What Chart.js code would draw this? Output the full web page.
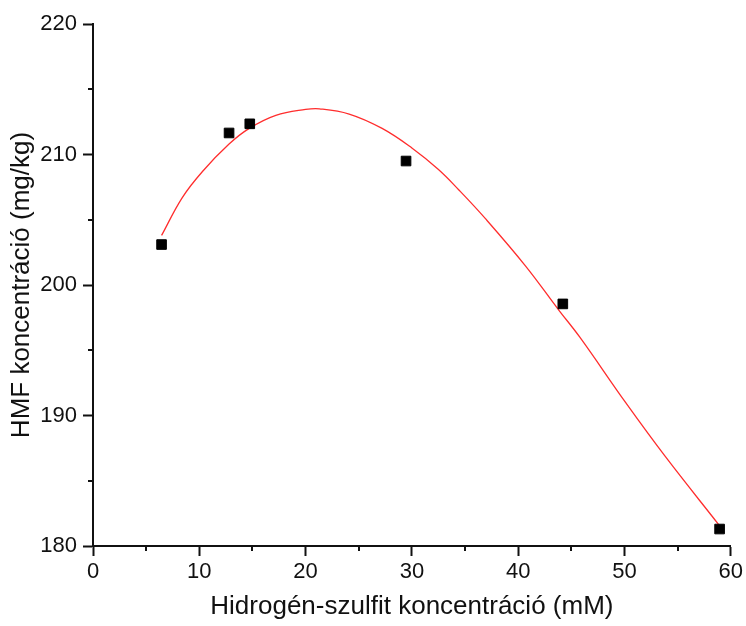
<!DOCTYPE html>
<html>
<head>
<meta charset="utf-8">
<script src="https://cdn.jsdelivr.net/npm/chart.js@4.4.1/dist/chart.umd.min.js"></script>
<style>
    html, body { margin: 0; padding: 0; background: #fff; }
    #wrap { width: 746px; height: 626px; }
</style>
</head>
<body>
<div id="wrap"><canvas id="hmfChart" width="746" height="626"></canvas></div>
<script>
// measured points (hydrogen sulfite mM -> HMF mg/kg)
const sulfiteMM = [6.45, 12.8, 14.75, 29.45, 44.2, 58.95];
const hmfValues = [203.1, 211.65, 212.35, 209.5, 198.55, 181.3];

// fitted curve
const fitX = [6.45, 8.4, 10.3, 12.8, 14.7, 17.2, 20.0, 21.3, 24.1, 27.2, 30.0, 32.5, 34.4, 36.9, 40.7, 43.8, 45.8, 50.1, 53.8, 58.9];
const fitY = [203.8, 206.7, 208.7, 210.8, 212.0, 213.0, 213.45, 213.5, 213.1, 212.0, 210.5, 208.85, 207.3, 205.1, 201.45, 198.1, 196.0, 191.0, 186.9, 181.6];

const xTicks = [0, 10, 20, 30, 40, 50, 60];
const yTicks = [180, 190, 200, 210, 220];
const xMinorTicks = [5, 15, 25, 35, 45, 55];
const yMinorTicks = [185, 195, 205, 215];

const FONT = "'Liberation Sans', Arial, sans-serif";
const INK = "#111";

// Chart.js has no minor ticks, so draw the short ones here
const minorTicks = {
    id: "minorTicks",
    afterDraw(chart) {
        const ctx = chart.ctx;
        const xs = chart.scales.x;
        const ys = chart.scales.y;
        ctx.save();
        ctx.strokeStyle = INK;
        ctx.lineWidth = 2;
        ctx.beginPath();
        xMinorTicks.forEach(v => {
            const px = Math.round(xs.getPixelForValue(v));
            ctx.moveTo(px, xs.top);
            ctx.lineTo(px, xs.top + 5);
        });
        yMinorTicks.forEach(v => {
            const py = Math.round(ys.getPixelForValue(v));
            ctx.moveTo(ys.right, py);
            ctx.lineTo(ys.right - 5, py);
        });
        ctx.stroke();
        ctx.restore();
    }
};

function drawChart() {
    const ctx = document.getElementById("hmfChart");
    new Chart(ctx, {
        type: "scatter",
        data: {
            datasets: [
                {
                    label: "Fit",
                    type: "line",
                    data: fitX.map((x, i) => ({ x, y: fitY[i] })),
                    borderColor: "rgb(255, 45, 45)",
                    borderWidth: 1.3,
                    pointRadius: 0,
                    fill: false,
                    tension: 0.4,
                    order: 2
                },
                {
                    label: "HMF",
                    data: sulfiteMM.map((x, i) => ({ x, y: hmfValues[i] })),
                    pointStyle: "rect",
                    pointRadius: 6.8,
                    pointBackgroundColor: "#000",
                    pointBorderColor: "#000",
                    pointBorderWidth: 1,
                    order: 1
                }
            ]
        },
        options: {
            responsive: false,
            animation: false,
            layout: { padding: { left: 0, right: 13, top: 24, bottom: 0 } },
            plugins: {
                legend: { display: false },
                tooltip: { enabled: false }
            },
            scales: {
                x: {
                    type: "linear",
                    min: 0,
                    max: 60,
                    afterBuildTicks: scale => { scale.ticks = xTicks.map(v => ({ value: v })); },
                    afterFit: scale => { scale.height = 80; },
                    grid: { drawOnChartArea: false, tickLength: 10, tickWidth: 2, tickColor: INK },
                    border: { color: INK, width: 2 },
                    ticks: { color: INK, font: { family: FONT, size: 22 }, padding: 3, maxRotation: 0 },
                    title: {
                        display: true,
                        text: "Hidrogén-szulfit koncentráció (mM)",
                        color: INK,
                        font: { family: FONT, size: 26 },
                        padding: { top: 0, bottom: 4 }
                    }
                },
                y: {
                    min: 180,
                    max: 220,
                    afterBuildTicks: scale => { scale.ticks = yTicks.map(v => ({ value: v })); },
                    afterFit: scale => { scale.width = 93; },
                    grid: { drawOnChartArea: false, tickLength: 10, tickWidth: 2, tickColor: INK },
                    border: { color: INK, width: 2 },
                    ticks: { color: INK, font: { family: FONT, size: 22 }, padding: 6 },
                    title: {
                        display: true,
                        text: "HMF koncentráció (mg/kg)",
                        color: INK,
                        font: { family: FONT, size: 26 },
                        padding: { top: 6, bottom: 0 }
                    }
                }
            }
        },
        plugins: [minorTicks]
    });
}

drawChart();
</script>
</body>
</html>
